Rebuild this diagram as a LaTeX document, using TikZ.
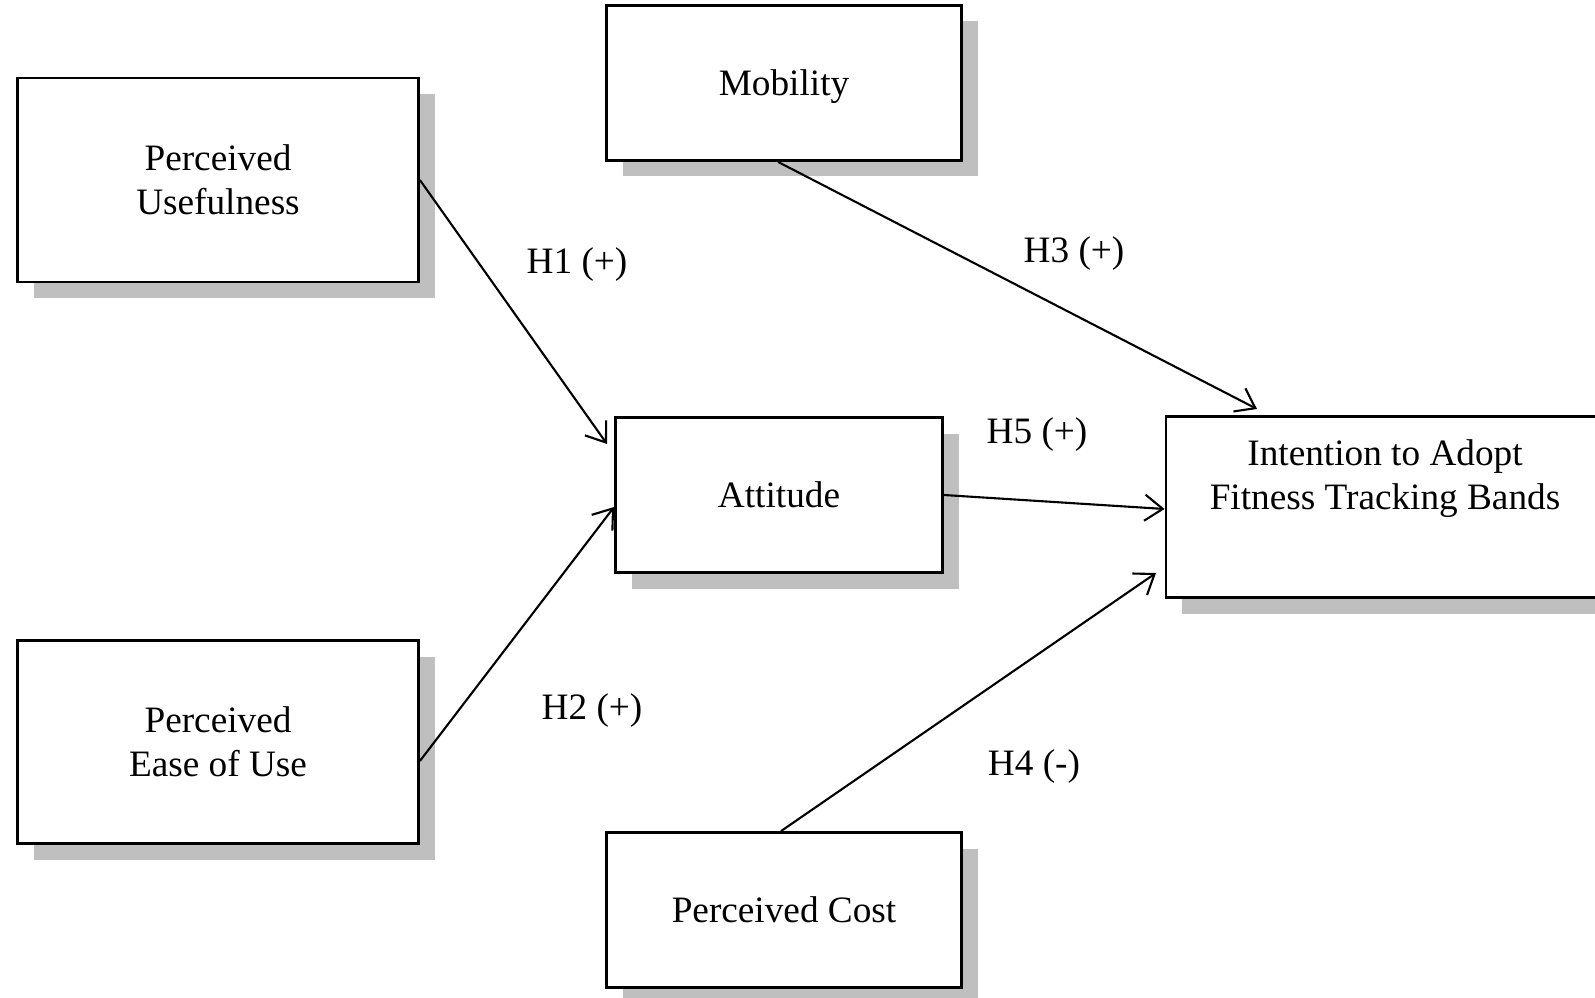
\documentclass[tikz,border=0pt]{standalone}
\usepackage{fontspec}
\setmainfont{Liberation Serif}
\usetikzlibrary{arrows.meta,shadows}
\begin{document}
\begin{tikzpicture}[x=0.1mm, y=-0.1mm, every node/.style = {align=center, font=\fontsize{10.6}{12.6}\selectfont}, line width=0.6pt, >={Straight Barb[length=1.8mm,width=2.6mm]}]
	\tikzstyle{box} = [draw, line width=0.8pt, fill=white, inner sep=0pt, general shadow={fill=black!25, shadow xshift=1.6mm, shadow yshift=-1.6mm}]
	\tikzstyle{hyp} = [inner sep=1pt]
	\useasboundingbox (0,0) rectangle (1595,998);
	% constructs
	\node[box, minimum width=40.1mm, minimum height=20.4mm] (pu) at (218,180) {Perceived\\Usefulness};
	\node[box, minimum width=40.1mm, minimum height=20.3mm] (peu) at (218,742) {Perceived\\Ease of Use};
	\node[box, minimum width=35.5mm, minimum height=15.5mm, text depth=0pt] (mob) at (784,83) {Mobility};
	\node[box, minimum width=32.7mm, minimum height=15.5mm] (att) at (779,495) {Attitude};
	\node[box, minimum width=43.8mm, minimum height=18.1mm] (int) at (1385,507) {Intention to Adopt\\Fitness Tracking Bands\\[6pt]\mbox{}};
	\node[box, minimum width=35.5mm, minimum height=15.5mm] (pc) at (784,910) {Perceived Cost};
	% hypotheses
	\node[hyp] (h1) at (577,265) {H1 (+)};
	\node[hyp] (h2) at (592,711) {H2 (+)};
	\node[hyp] (h3) at (1074,254) {H3 (+)};
	\node[hyp] (h4) at (1034,767) {H4 (-)};
	\node[hyp] (h5) at (1037,435) {H5 (+)};
	\coordinate (tip1) at (607,444);
	\coordinate (tip3) at (1257,409);
	\coordinate (tip4) at (1156,573);
	\draw[->] (pu.east) -- (tip1);
	\draw[->] ([yshift=-1.9mm]peu.east) -- ([yshift=-1.2mm]att.west);
	\draw[->] ([xshift=-0.6mm]mob.south) -- (tip3);
	\draw[->] (att.east) -- ([yshift=-0.2mm]int.west);
	\draw[->] ([xshift=-0.3mm]pc.north) -- (tip4);
\end{tikzpicture}
\end{document}
